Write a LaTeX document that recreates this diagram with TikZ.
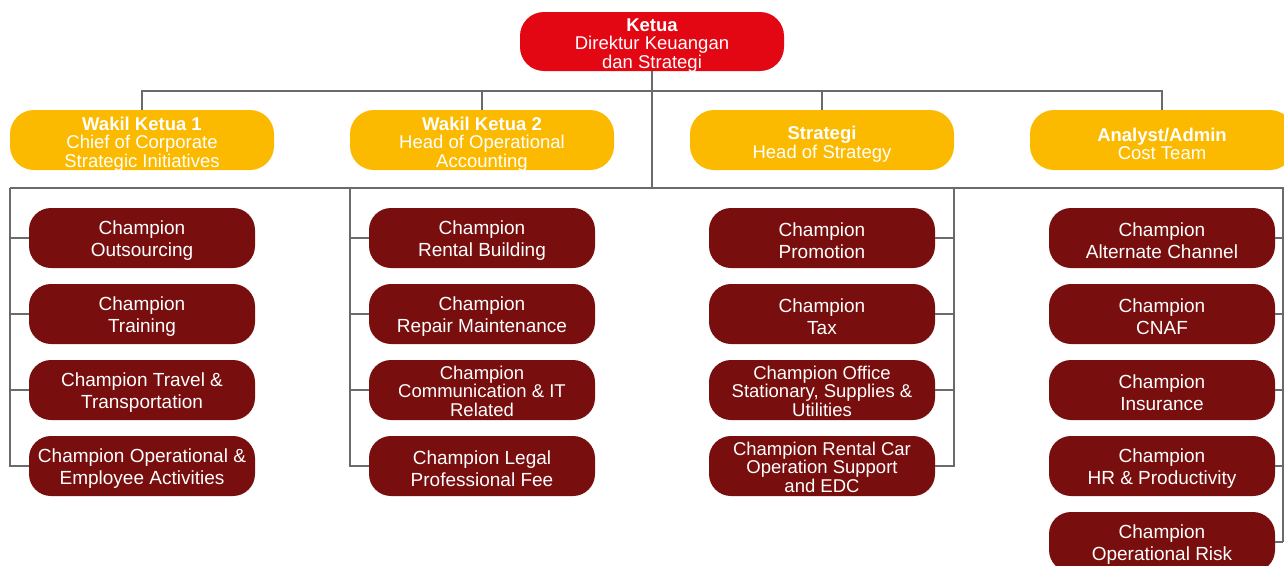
\documentclass[tikz,border=0pt]{standalone}
\usepackage{fontspec}
\setmainfont{Liberation Sans}
\definecolor{topred}{HTML}{E30613}
\definecolor{ygold}{HTML}{FBBA00}
\definecolor{maroon}{HTML}{780E0D}
\definecolor{linegrey}{HTML}{6A6A6A}
\begin{document}
\begin{tikzpicture}[x=1pt,y=-1pt,
  base/.style={rounded corners=24pt, inner sep=0pt},
  topbox/.style={base, fill=topred, minimum width=264pt, minimum height=59pt},
  headbox/.style={base, fill=ygold, minimum width=264pt, minimum height=60pt},
  champ/.style={base, rounded corners=22pt, fill=maroon, minimum width=226pt, minimum height=60pt},
  ttl/.style={align=center, text=white, inner sep=0pt, yshift=-4pt, font=\fontsize{18.5}{18.5}\selectfont},
  lbl/.style={align=center, text=white, inner sep=0pt, yshift=-3pt, font=\fontsize{19}{22}\selectfont},
  tlbl/.style={align=center, text=white, inner sep=0pt, yshift=-1pt, font=\fontsize{18.5}{18.5}\selectfont},
  conn/.style={draw=linegrey, line width=1.5pt}
]
\clip (0,0) rectangle (1284,565);
\fill[white] (0,0) rectangle (1284,565);

% top
\node[topbox, label={[ttl]center:{\textbf{Ketua}\\Direktur Keuangan\\dan Strategi}}] (top) at (652,41.5) {};

% heads
\node[headbox, label={[ttl]center:{\textbf{Wakil Ketua 1}\\Chief of Corporate\\Strategic Initiatives}}] (h1) at (142,140) {};
\node[headbox, label={[ttl]center:{\textbf{Wakil Ketua 2}\\Head of Operational\\Accounting}}] (h2) at (482,140) {};
\node[headbox, label={[ttl]center:{\textbf{Strategi}\\Head of Strategy}}] (h3) at (822,140) {};
\node[headbox, label={[ttl]center:{\textbf{Analyst/Admin}\\Cost Team}}] (h4) at (1162,140) {};

% champions column 1
\node[champ, label={[lbl]center:{Champion\\Outsourcing}}] (a1) at (142,238) {};
\node[champ, label={[lbl]center:{Champion\\Training}}] (a2) at (142,314) {};
\node[champ, label={[lbl]center:{Champion Travel \&\\Transportation}}] (a3) at (142,390) {};
\node[champ, label={[lbl]center:{Champion Operational \&\\Employee Activities}}] (a4) at (142,466) {};
% column 2
\node[champ, label={[lbl]center:{Champion\\Rental Building}}] (b1) at (482,238) {};
\node[champ, label={[lbl]center:{Champion\\Repair Maintenance}}] (b2) at (482,314) {};
\node[champ, label={[tlbl]center:{Champion\\Communication \& IT\\Related}}] (b3) at (482,390) {};
\node[champ, label={[lbl]center:{Champion Legal\\Professional Fee}}] (b4) at (482,466) {};
% column 3
\node[champ, label={[lbl]center:{Champion\\Promotion}}] (c1) at (822,238) {};
\node[champ, label={[lbl]center:{Champion\\Tax}}] (c2) at (822,314) {};
\node[champ, label={[tlbl]center:{Champion Office\\Stationary, Supplies \&\\Utilities}}] (c3) at (822,390) {};
\node[champ, label={[tlbl]center:{Champion Rental Car\\Operation Support\\and EDC}}] (c4) at (822,466) {};
% column 4
\node[champ, label={[lbl]center:{Champion\\Alternate Channel}}] (d1) at (1162,238) {};
\node[champ, label={[lbl]center:{Champion\\CNAF}}] (d2) at (1162,314) {};
\node[champ, label={[lbl]center:{Champion\\Insurance}}] (d3) at (1162,390) {};
\node[champ, label={[lbl]center:{Champion\\HR \& Productivity}}] (d4) at (1162,466) {};
\node[champ, label={[lbl]center:{Champion\\Operational Risk}}] (d5) at (1162,542) {};

% bus coordinates
\coordinate (busA) at (652,91);
\coordinate (busB) at (652,188);
\coordinate (lA) at (10,188);
\coordinate (lB) at (350,188);
\coordinate (lC) at (954,188);
\coordinate (lD) at (1283,188);

% connectors top level
\draw[conn] (top.south) -- (busB);
\draw[conn] (h1.north) -- (h1.north |- busA) -- (h4.north |- busA) -- (h4.north);
\draw[conn] (h2.north) -- (h2.north |- busA);
\draw[conn] (h3.north) -- (h3.north |- busA);
\draw[conn] (lA) -- (1290,188);

% column 1
\draw[conn] (lA) |- (a4.west);
\draw[conn] (a1.west -| lA) -- (a1.west);
\draw[conn] (a2.west -| lA) -- (a2.west);
\draw[conn] (a3.west -| lA) -- (a3.west);
% column 2
\draw[conn] (lB) |- (b4.west);
\draw[conn] (b1.west -| lB) -- (b1.west);
\draw[conn] (b2.west -| lB) -- (b2.west);
\draw[conn] (b3.west -| lB) -- (b3.west);
% column 3
\draw[conn] (lC) |- (c4.east);
\draw[conn] (c1.east -| lC) -- (c1.east);
\draw[conn] (c2.east -| lC) -- (c2.east);
\draw[conn] (c3.east -| lC) -- (c3.east);
% column 4
\draw[conn] (lD) -- (lD |- d5.east);
\draw[conn] (d1.east -| lD) -- (d1.east);
\draw[conn] (d2.east -| lD) -- (d2.east);
\draw[conn] (d3.east -| lD) -- (d3.east);
\draw[conn] (d4.east -| lD) -- (d4.east);
\draw[conn] (d5.east -| lD) -- (d5.east);
\end{tikzpicture}
\end{document}
